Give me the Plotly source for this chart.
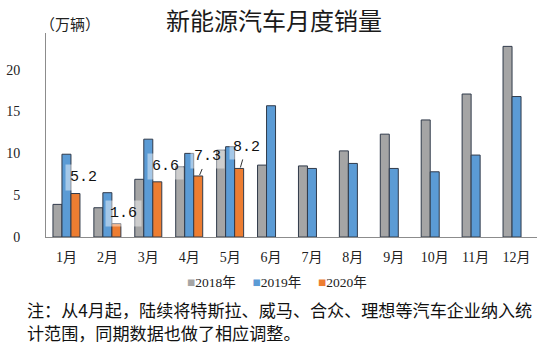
import plotly.graph_objects as go

months = ["1月", "2月", "3月", "4月", "5月", "6月", "7月", "8月", "9月", "10月", "11月", "12月"]
sales_2018 = [3.9, 3.5, 6.9, 8.4, 10.4, 8.6, 8.5, 10.3, 12.3, 14.0, 17.1, 22.8]
sales_2019 = [9.9, 5.3, 11.7, 10.0, 10.8, 15.7, 8.2, 8.8, 8.2, 7.8, 9.8, 16.8]
sales_2020 = [5.2, 1.6, 6.6, 7.3, 8.2, None, None, None, None, None, None, None]
series_names = ["2018年", "2019年", "2020年"]
series_colors = ["#a5a5a5", "#5b9bd5", "#ed7d31"]
y_ticks = [0, 5, 10, 15, 20]
note_lines = ["注：从4月起，陆续将特斯拉、威马、合众、理想等汽车企业纳入统",
              "计范围，同期数据也做了相应调整。"]

# label offsets (pixels) relative to the top of each 2020 bar: (dx, dy, leader line)
label_offsets = [(8, 16, False), (7, 10, False), (8, 15, False), (9, 19, True), (7, 21, True)]

serif = "Liberation Serif, Noto Sans CJK SC, serif"
sans = "Noto Sans CJK SC, sans-serif"

fig = go.Figure()
for name, vals, col in zip(series_names, [sales_2018, sales_2019, sales_2020], series_colors):
    fig.add_trace(go.Bar(
        x=months, y=vals, name=name, showlegend=False,
        marker=dict(color=col, line=dict(color="#303a4a", width=1)),
    ))

bar_px = 9  # horizontal offset of 2020 bar from the category centre
for m, v, (dx, dy, lead) in zip(months, sales_2020, label_offsets):
    if v is None:
        continue
    txt = f"{v:.1f}"
    if lead:
        fig.add_annotation(
            x=m, y=v, xref="x", yref="y", text=txt, showarrow=True,
            arrowhead=0, arrowwidth=1, arrowcolor="#333", ax=dx - 1, ay=-dy,
            xshift=bar_px + 1, standoff=1,
            font=dict(family="Liberation Mono, monospace", size=15, color="#111"),
            bgcolor="rgba(255,255,255,0.45)", borderpad=3,
        )
    else:
        fig.add_annotation(
            x=m, y=v, xref="x", yref="y", text=txt, showarrow=False,
            xshift=bar_px + dx, yshift=dy,
            font=dict(family="Liberation Mono, monospace", size=15, color="#111"),
            bgcolor="rgba(255,255,255,0.45)", borderpad=4,
        )

# compact legend (small squares, as in the reference)
gap = "\u00a0" * 5
legend_text = gap.join(
    f"<span style='color:{c}'>■</span>{n}" for n, c in zip(series_names, series_colors)
)
fig.add_annotation(
    x=0.471, y=-0.225, xref="paper", yref="paper", xanchor="center", yanchor="middle",
    showarrow=False, text=legend_text,
    font=dict(family="Liberation Serif, DejaVu Serif, Noto Sans CJK SC, serif", size=13.5, color="#222"),
)

fig.add_annotation(
    x=0.049, y=1.049, xref="paper", yref="paper", text="（万辆）", showarrow=False,
    font=dict(family=sans, size=15, color="#222"), xanchor="center", yanchor="middle",
)

for line, yp in zip(note_lines, [-0.353, -0.466]):
    fig.add_annotation(
        x=-0.043, y=yp, xref="paper", yref="paper", xanchor="left", yanchor="middle",
        align="left", showarrow=False, text=line,
        font=dict(family=sans, size=17.1, color="#111"),
    )

fig.update_layout(
    width=550, height=344,
    margin=dict(l=46, r=13, t=33, b=107, autoexpand=False),
    paper_bgcolor="white", plot_bgcolor="white",
    barmode="group", bargap=0.34, bargroupgap=0,
    title=dict(text="新能源汽车月度销量", x=0.498, y=0.936, xanchor="center", yanchor="middle",
               font=dict(family=sans, size=24, color="#1a1a1a")),
    showlegend=False,
    xaxis=dict(showline=True, linecolor="#8c8c8c", linewidth=1, showgrid=False, ticks="",
               automargin=False,
               tickfont=dict(family=serif, size=14, color="#222"), ticklabelstandoff=7),
    yaxis=dict(range=[0, 24.4], tickvals=y_ticks, showline=True, linecolor="#8c8c8c",
               linewidth=1, showgrid=False, zeroline=False, ticks="", automargin=False,
               tickfont=dict(family=serif, size=14, color="#222"), ticklabelstandoff=22),
)

fig.write_html("out.html")
